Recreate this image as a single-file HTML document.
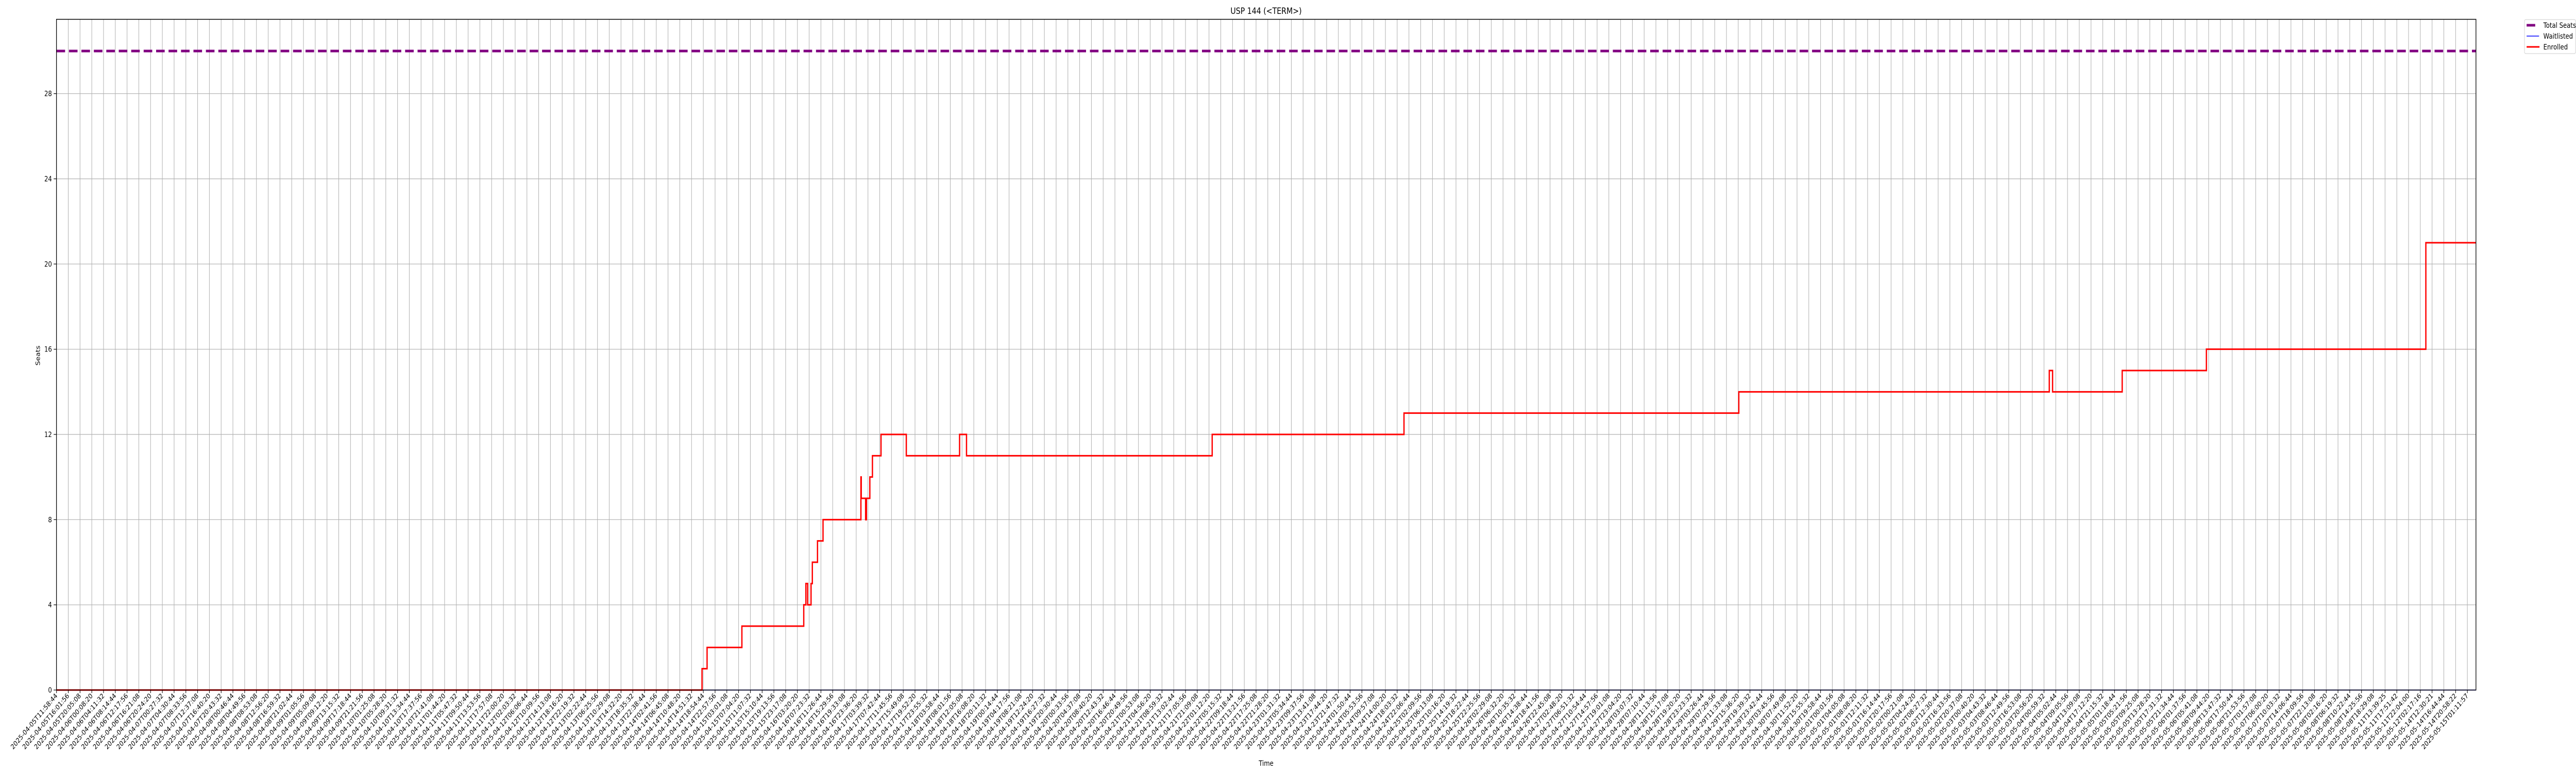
<!DOCTYPE html>
<html><head><meta charset="utf-8"><style>
html,body{margin:0;padding:0;background:#fff;width:100%;height:100%;overflow:hidden;}
svg{display:block;overflow:hidden;width:100vw;height:100vh;font-family:"Liberation Sans","DejaVu Sans",sans-serif;}
</style></head><body>
<svg id="chart" viewBox="0 0 6000 1500" preserveAspectRatio="none" xmlns="http://www.w3.org/2000/svg">
<rect x="0" y="0" width="6000" height="1500" fill="#fff"/>
<text x="2949" y="27" font-size="17" text-anchor="middle" font-family="DejaVu Sans, sans-serif">USP 144 (&lt;TERM&gt;)</text>
<g id="grid"></g>
<g id="series"></g>
<rect x="131.5" y="37.5" width="5635.5" height="1301.5" fill="none" stroke="#000" stroke-width="1.5"/>
<g id="axes"></g>
<text transform="translate(93,690) rotate(-90)" font-size="14" text-anchor="middle" font-family="DejaVu Sans, sans-serif">Seats</text>
<text x="2949" y="1486" font-size="14" text-anchor="middle" font-family="DejaVu Sans, sans-serif">Time</text>
<g>
<rect x="5880" y="38" width="119" height="66" rx="3" fill="#fff" stroke="#ccc" stroke-width="1"/>
<line x1="5885" y1="49" x2="5905" y2="49" stroke="purple" stroke-width="5"/>
<text x="5924" y="54" font-size="14" font-family="DejaVu Sans, sans-serif">Total Seats</text>
<line x1="5885" y1="70" x2="5914" y2="70" stroke="blue" stroke-width="1.5"/>
<text x="5924" y="75" font-size="14" font-family="DejaVu Sans, sans-serif">Waitlisted</text>
<line x1="5885" y1="91" x2="5915" y2="91" stroke="red" stroke-width="3"/>
<text x="5924" y="96" font-size="14" font-family="DejaVu Sans, sans-serif">Enrolled</text>
</g>
</svg>
<script>
const NS="http://www.w3.org/2000/svg";
// data (x in sample-index units along categorical time axis)
const enrolledX=[0,54.89,55.32,58.28,63.54,63.72,63.87,64.16,64.27,64.71,65.18,68.40,68.43,68.80,68.87,69.16,69.38,70.11,72.26,76.79,77.38,98.27,114.58,143.05,169.45,169.73,175.65,182.81,201.47];
const enrolledY=[0,1,2,3,4,5,4,5,6,7,8,10,9,8,9,10,11,12,11,12,11,12,13,14,15,14,15,16,21];
const waitlistedX=[0,205.73];
const waitlistedY=[0,0];
const totalSeats=[30,30];
const yTicks=[0,4,8,12,16,20,24,28];
const tailLabels=["2025-05-11T13:39:25","2025-05-11T17:51:42","2025-05-11T22:04:00","2025-05-12T02:17:16","2025-05-14T12:30:21","2025-05-14T16:44:44","2025-05-14T20:58:22","2025-05-15T01:11:57"];
const X0=131.6,XS=27.392,XMAX=205.73,Y0=1339,YMAX=31.5;
function xs(v){return X0+v*XS;}
function ys(v){return Y0-v*(Y0-37)/YMAX;}
function el(t,a,p){const e=document.createElementNS(NS,t);for(const k in a)e.setAttribute(k,a[k]);p.appendChild(e);return e;}
const grid=document.getElementById('grid'),axes=document.getElementById('axes'),ser=document.getElementById('series');
const start=new Date(Date.UTC(2025,3,5,11,58,44));
const labels=[];
for(let i=0;i<206;i++){const d=new Date(start.getTime()+i*14592000);labels.push(d.toISOString().slice(0,19));}
for(let i=0;i<tailLabels.length;i++)labels[198+i]=tailLabels[i];
labels.forEach((lab,i)=>{
  const x=xs(i);
  const g=el('line',{x1:x,y1:37,x2:x,y2:1339,stroke:'#b0b0b0','stroke-width':1.2},grid);
  
  
  const tk=el('line',{x1:x,y1:1339,x2:x,y2:1345,stroke:'#000','stroke-width':1.2},axes);
  
  
  const t=el('text',{transform:`translate(${x+3},${1351}) rotate(-45)`,'font-size':13.5,'text-anchor':'end','font-family':'DejaVu Sans, sans-serif'},axes);
  t.textContent=lab;
  
  
});
yTicks.forEach(v=>{
  const y=ys(v);
  const g=el('line',{x1:131,y1:y,x2:5767,y2:y,stroke:'#b0b0b0','stroke-width':1.2},grid);
  
  
  const tk=el('line',{x1:125,y1:y,x2:131,y2:y,stroke:'#000','stroke-width':1.2},axes);
  
  
  const t=el('text',{x:121,y:y+5,'font-size':14,'text-anchor':'end','font-family':'DejaVu Sans, sans-serif'},axes);
  t.textContent=v;
  
  
});
function stepPath(X,Y,end){let d=`M${xs(X[0])},${ys(Y[0])}`;for(let i=1;i<X.length;i++){d+=`H${xs(X[i])}V${ys(Y[i])}`;}d+=`H${xs(end)}`;return d;}
const wl=el('path',{d:stepPath(waitlistedX,waitlistedY,XMAX),fill:'none',stroke:'blue','stroke-width':1.5},ser);


const en=el('path',{d:stepPath(enrolledX,enrolledY,XMAX),fill:'none',stroke:'red','stroke-width':3},ser);


const ts=el('line',{x1:xs(0),y1:ys(totalSeats[0]),x2:xs(XMAX),y2:ys(totalSeats[1]),stroke:'purple','stroke-width':5,'stroke-dasharray':'20,9'},ser);


</script>
</body></html>
